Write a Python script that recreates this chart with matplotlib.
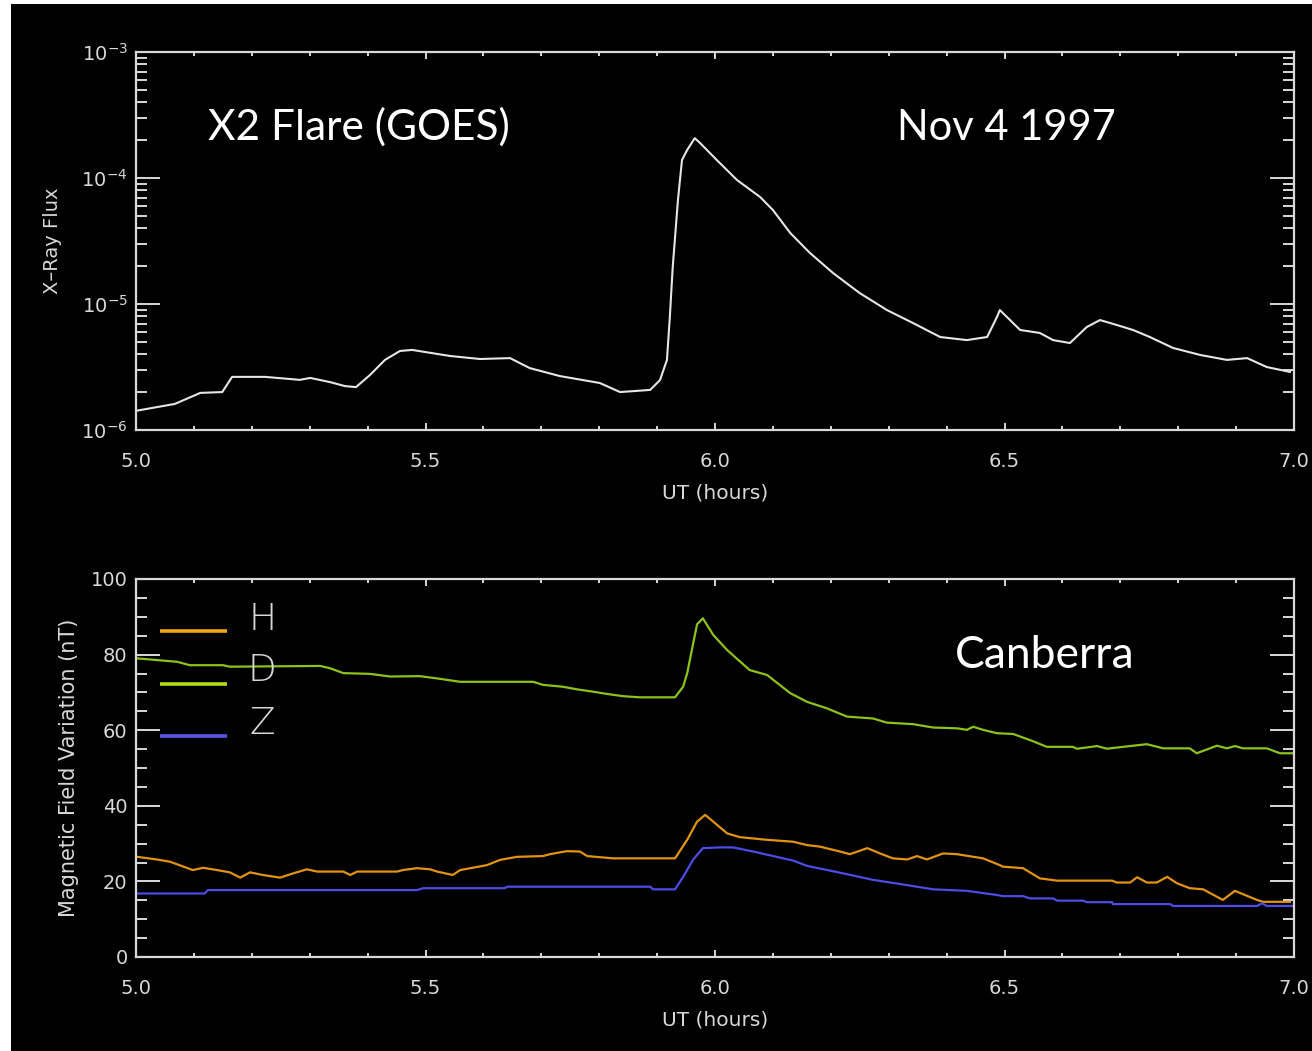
import matplotlib
matplotlib.use("Agg")
import matplotlib.pyplot as plt
from matplotlib.patches import Rectangle
from matplotlib.lines import Line2D
from matplotlib.ticker import MultipleLocator, LogLocator, NullFormatter

# GOES X-ray flux (W/m^2) vs UT hours
goes_t = [5.000, 5.067, 5.111, 5.149, 5.166, 5.223, 5.283, 5.301, 5.335, 5.361,
          5.380, 5.404, 5.430, 5.456, 5.477, 5.499, 5.542, 5.594, 5.646, 5.680,
          5.732, 5.801, 5.836, 5.888, 5.905, 5.917, 5.922, 5.927, 5.936, 5.943,
          5.952, 5.965, 5.974, 6.003, 6.038, 6.078, 6.100, 6.130, 6.164, 6.204,
          6.250, 6.297, 6.342, 6.389, 6.435, 6.470, 6.487, 6.492, 6.527, 6.561,
          6.584, 6.613, 6.642, 6.665, 6.694, 6.722, 6.751, 6.791, 6.838, 6.884,
          6.919, 6.953, 6.993]
goes_flux = [1.42e-6, 1.61e-6, 1.97e-6, 2.00e-6, 2.64e-6, 2.64e-6, 2.50e-6, 2.59e-6, 2.40e-6, 2.23e-6,
             2.19e-6, 2.73e-6, 3.60e-6, 4.24e-6, 4.32e-6, 4.16e-6, 3.87e-6, 3.66e-6, 3.72e-6, 3.10e-6,
             2.68e-6, 2.36e-6, 2.00e-6, 2.08e-6, 2.49e-6, 3.60e-6, 7.89e-6, 1.97e-5, 6.68e-5, 1.39e-4,
             1.67e-4, 2.07e-4, 1.90e-4, 1.39e-4, 9.64e-5, 7.06e-5, 5.57e-5, 3.66e-5, 2.54e-5, 1.76e-5,
             1.22e-5, 8.95e-6, 7.06e-6, 5.47e-6, 5.17e-6, 5.47e-6, 7.89e-6, 8.95e-6, 6.22e-6, 5.89e-6,
             5.17e-6, 4.90e-6, 6.56e-6, 7.46e-6, 6.81e-6, 6.22e-6, 5.47e-6, 4.48e-6, 3.94e-6, 3.60e-6,
             3.72e-6, 3.16e-6, 2.89e-6]

# Canberra magnetometer components (nT)
h_t = [5.002, 5.036, 5.059, 5.098, 5.116, 5.140, 5.162, 5.180, 5.197, 5.219,
       5.249, 5.271, 5.295, 5.313, 5.358, 5.370, 5.382, 5.451, 5.461, 5.485,
       5.508, 5.520, 5.547, 5.560, 5.606, 5.629, 5.658, 5.703, 5.715, 5.744,
       5.767, 5.779, 5.824, 5.931, 5.952, 5.969, 5.983, 5.997, 6.021, 6.043,
       6.090, 6.135, 6.159, 6.181, 6.216, 6.233, 6.263, 6.285, 6.307, 6.332,
       6.349, 6.366, 6.394, 6.418, 6.463, 6.492, 6.497, 6.532, 6.561, 6.591,
       6.686, 6.694, 6.717, 6.729, 6.746, 6.763, 6.781, 6.798, 6.820, 6.843,
       6.877, 6.898, 6.936, 6.946, 6.993]
h_val = [26.5, 25.8, 25.2, 23.0, 23.6, 23.0, 22.4, 21.0, 22.4, 21.7,
         21.0, 22.1, 23.2, 22.6, 22.6, 21.7, 22.6, 22.6, 23.0, 23.5,
         23.2, 22.6, 21.7, 23.0, 24.3, 25.7, 26.5, 26.7, 27.2, 28.0,
         27.9, 26.7, 26.1, 26.1, 31.0, 35.8, 37.6, 35.8, 32.7, 31.7,
         31.0, 30.5, 29.6, 29.2, 27.9, 27.2, 28.8, 27.4, 26.1, 25.8,
         26.7, 25.8, 27.4, 27.2, 26.1, 24.3, 23.9, 23.5, 20.8, 20.2,
         20.2, 19.7, 19.7, 21.1, 19.7, 19.7, 21.2, 19.5, 18.2, 17.9,
         15.1, 17.5, 15.1, 14.6, 14.6]

d_t = [5.002, 5.071, 5.093, 5.150, 5.162, 5.318, 5.335, 5.358, 5.404, 5.439,
       5.490, 5.520, 5.560, 5.686, 5.703, 5.737, 5.762, 5.789, 5.813, 5.841,
       5.870, 5.931, 5.945, 5.952, 5.960, 5.969, 5.979, 5.997, 6.021, 6.060,
       6.090, 6.130, 6.159, 6.193, 6.228, 6.273, 6.297, 6.342, 6.377, 6.418,
       6.435, 6.446, 6.463, 6.487, 6.515, 6.549, 6.573, 6.618, 6.625, 6.660,
       6.677, 6.705, 6.746, 6.774, 6.820, 6.832, 6.867, 6.884, 6.898, 6.912,
       6.953, 6.976, 6.998]
d_val = [79.0, 78.1, 77.2, 77.2, 76.8, 77.0, 76.4, 75.1, 74.9, 74.2,
         74.3, 73.7, 72.8, 72.8, 72.0, 71.5, 70.8, 70.2, 69.6, 69.0,
         68.7, 68.7, 71.5, 75.1, 81.2, 88.0, 89.6, 85.2, 81.2, 75.9,
         74.6, 69.8, 67.5, 65.8, 63.6, 63.1, 62.0, 61.6, 60.7, 60.5,
         60.1, 60.9, 60.1, 59.2, 59.0, 57.1, 55.6, 55.6, 55.1, 55.8,
         55.1, 55.6, 56.3, 55.2, 55.2, 53.9, 55.9, 55.2, 55.8, 55.2,
         55.2, 53.9, 53.9]

z_t = [5.002, 5.119, 5.124, 5.485, 5.496, 5.637, 5.641, 5.888, 5.893, 5.931,
       5.945, 5.962, 5.979, 6.009, 6.031, 6.066, 6.135, 6.159, 6.216, 6.273,
       6.320, 6.377, 6.435, 6.487, 6.497, 6.532, 6.544, 6.584, 6.591, 6.636,
       6.642, 6.686, 6.687, 6.786, 6.791, 6.936, 6.945, 6.953, 6.998]
z_val = [16.8, 16.8, 17.7, 17.7, 18.2, 18.2, 18.6, 18.6, 17.9, 17.9,
         21.2, 25.7, 28.8, 29.0, 29.0, 27.9, 25.5, 24.1, 22.3, 20.4,
         19.3, 17.9, 17.5, 16.4, 16.1, 16.1, 15.5, 15.5, 14.9, 14.9,
         14.5, 14.5, 14.0, 14.0, 13.5, 13.5, 14.2, 13.5, 13.5]

x_ticks = [5.0, 5.5, 6.0, 6.5, 7.0]
x_ticklabels = ["5.0", "5.5", "6.0", "6.5", "7.0"]
mag_yticks = [0, 20, 40, 60, 80, 100]

series_names = ["H", "D", "Z"]
series_colors = ["#e39312", "#8cc21a", "#4c4ce6"]
legend_colors = ["#f0a60c", "#b4dc14", "#5656ea"]

FG = "#d8d8d8"
W, H = 1312, 1051

fig = plt.figure(figsize=(W / 100, H / 100), dpi=100, facecolor="white")
fig.add_artist(Rectangle((11 / W, 0), 1 - 11 / W, 1 - 4 / H,
                         transform=fig.transFigure, facecolor="black",
                         edgecolor="none", zorder=-10))

ax1 = fig.add_axes([136 / W, 1 - 430 / H, 1158 / W, 378 / H])
ax2 = fig.add_axes([136 / W, 1 - 957 / H, 1158 / W, 378 / H])

for ax in (ax1, ax2):
    ax.set_facecolor("black")
    for s in ax.spines.values():
        s.set_color(FG)
        s.set_linewidth(1.6)
    ax.set_xlim(5.0, 7.0)
    ax.set_xticks(x_ticks)
    ax.set_xticklabels(x_ticklabels)
    ax.xaxis.set_minor_locator(MultipleLocator(0.1))
    ax.tick_params(which="both", direction="in", top=True, right=True,
                   color=FG, labelcolor=FG, labelsize=14, width=1.4)
    ax.tick_params(axis="x", which="major", length=5, pad=16)
    ax.tick_params(axis="x", which="minor", length=3)
    ax.tick_params(axis="y", which="major", length=17, pad=6)
    ax.tick_params(axis="y", which="minor", length=8)
    ax.set_xlabel("UT (hours)", color=FG, fontsize=14.5, labelpad=9)

# X-ray flux panel
ax1.plot(goes_t, goes_flux, color="#e6e6e6", lw=1.5)
ax1.set_yscale("log")
ax1.set_ylim(1e-6, 1e-3)
ax1.yaxis.set_major_locator(LogLocator(base=10, numticks=10))
ax1.yaxis.set_minor_locator(LogLocator(base=10, subs=range(2, 10), numticks=20))
ax1.yaxis.set_minor_formatter(NullFormatter())
ax1.set_ylabel("X\u2013Ray Flux", color=FG, fontsize=14)
ax1.yaxis.set_label_coords(-0.064, 0.5)
ax1.text(0.062, 0.767, "X2 Flare (GOES)", transform=ax1.transAxes,
         color="white", fontsize=30.5, family="Lato", va="baseline", ha="left")
ax1.text(0.657, 0.767, "Nov 4 1997", transform=ax1.transAxes,
         color="white", fontsize=30, family="Lato", va="baseline", ha="left")

# Magnetometer panel
for t, v, c in zip([h_t, d_t, z_t], [h_val, d_val, z_val], series_colors):
    ax2.plot(t, v, color=c, lw=1.6)
ax2.set_ylim(0, 100)
ax2.set_yticks(mag_yticks)
ax2.yaxis.set_minor_locator(MultipleLocator(5))
ax2.set_ylabel("Magnetic Field Variation (nT)", color=FG, fontsize=15)
ax2.yaxis.set_label_coords(-0.049, 0.5)
ax2.text(0.707, 0.765, "Canberra", transform=ax2.transAxes,
         color="white", fontsize=32, family="Lato", va="baseline", ha="left")

# Key: coloured line segments with component letters
key_line_y = [0.862, 0.722, 0.585]
key_text_y = [0.894, 0.757, 0.619]
for name, c, ly, ty in zip(series_names, legend_colors, key_line_y, key_text_y):
    ax2.add_line(Line2D([0.021, 0.079], [ly, ly], transform=ax2.transAxes,
                        color=c, lw=2.6, solid_capstyle="butt"))
    ax2.text(0.109, ty, name, transform=ax2.transAxes, color=FG,
             fontsize=27, ha="center", va="center", fontweight="light")

fig.savefig("out.png", dpi=100, facecolor=fig.get_facecolor())
